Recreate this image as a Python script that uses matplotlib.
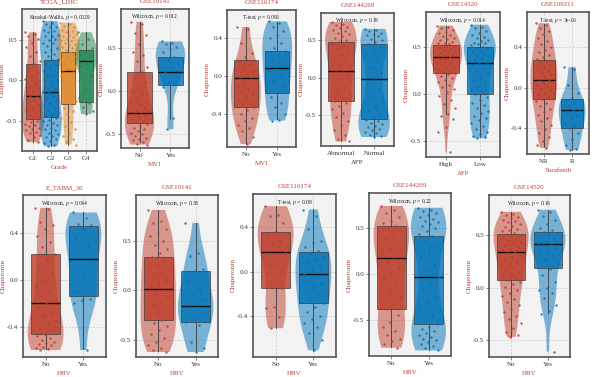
import numpy as np
import matplotlib
matplotlib.use("Agg")
import matplotlib.pyplot as plt

plt.rcParams['font.family'] = ['Liberation Serif', 'DejaVu Serif']
plt.rcParams['mathtext.fontset'] = 'stix'
plt.rcParams['axes.unicode_minus'] = False

RED, BLUE, ORANGE, GREEN = "#BC3C29", "#0072B5", "#E18727", "#20854E"
LABEL_RED = "#B8433A"

# ---------------- data ----------------
titles = ["TCGA_LIHC", "GSE10141", "GSE116174", "GSE144269", "GSE14520", "GSE109211",
          "E_TABM_36", "GSE10141", "GSE116174", "GSE144269", "GSE14520"]
xlabels = ["Grade", "MVI", "MVI", "AFP", "AFP", "Sorafenib", "HBV", "HBV", "HBV", "HBV", "HBV"]
categories = [["G1", "G2", "G3", "G4"], ["No", "Yes"], ["No", "Yes"], ["Abnormal", "Normal"],
              ["High", "Low"], ["NR", "R"], ["No", "Yes"], ["No", "Yes"], ["No", "Yes"],
              ["No", "Yes"], ["No", "Yes"]]
tests = ["Kruskal-Wallis", "Wilcoxon", "T-test", "Wilcoxon", "Wilcoxon", "T-test",
         "Wilcoxon", "Wilcoxon", "T-test", "Wilcoxon", "Wilcoxon"]
pvalues = ["0.0029", "0.012", "0.096", "0.19", "0.014", "3e-06", "0.044", "0.38", "0.08", "0.22", "0.16"]
ytick_values = [[-0.5, 0.0, 0.5], [-0.5, 0.0, 0.5], [-0.4, 0.0, 0.4], [-0.5, 0.0, 0.5],
                [-0.5, 0.0, 0.5], [-0.4, 0.0, 0.4], [-0.4, 0.0, 0.4], [-0.5, 0.0, 0.5],
                [-0.4, 0.0, 0.4], [-0.5, 0.0, 0.5], [-0.5, 0.0, 0.5]]
ylims = [(-0.88, 0.89), (-0.67, 0.96), (-0.75, 0.70), (-0.91, 0.86), (-0.67, 0.875),
         (-0.65, 0.74), (-0.66, 0.73), (-0.67, 0.96), (-0.77, 0.70), (-0.89, 0.88), (-0.66, 0.88)]

# box stats per panel: [whislo, q1, med, q3, whishi] for each group
box_tcga = [[-0.77, -0.48, -0.19, 0.21, 0.60], [-0.82, -0.45, -0.14, 0.26, 0.74],
            [-0.80, -0.30, 0.12, 0.36, 0.72], [-0.42, -0.27, 0.245, 0.375, 0.60]]
box_10141_mvi = [[-0.60, -0.376, -0.254, 0.224, 0.81], [-0.325, 0.067, 0.224, 0.393, 0.576]]
box_116174_mvi = [[-0.72, -0.331, -0.024, 0.169, 0.523], [-0.458, -0.183, 0.081, 0.268, 0.575]]
box_144269_afp = [[-0.85, -0.312, 0.088, 0.476, 0.74], [-0.79, -0.553, -0.013, 0.453, 0.65]]
box_14520_afp = [[-0.207, 0.229, 0.393, 0.525, 0.729], [-0.46, -0.003, 0.329, 0.50, 0.74]]
box_109211 = [[-0.58, -0.115, 0.072, 0.268, 0.627], [-0.608, -0.392, -0.216, -0.108, 0.202]]
box_etabm = [[-0.595, -0.465, -0.194, 0.22, 0.62], [-0.595, -0.137, 0.183, 0.463, 0.58]]
box_10141_hbv = [[-0.61, -0.295, 0.017, 0.335, 0.81], [-0.60, -0.319, -0.154, 0.194, 0.677]]
box_116174_hbv = [[-0.51, -0.15, 0.175, 0.36, 0.588], [-0.713, -0.285, -0.018, 0.175, 0.564]]
box_144269_hbv = [[-0.79, -0.382, 0.171, 0.52, 0.74], [-0.83, -0.538, -0.029, 0.418, 0.715]]
box_14520_hbv = [[-0.467, 0.073, 0.337, 0.506, 0.72], [-0.244, 0.184, 0.413, 0.527, 0.742]]

# individual sample values
tcga_g1 = [0.60, 0.58, 0.55, 0.52, 0.47, 0.42, 0.35, 0.30, 0.24, 0.20, 0.15, 0.10, 0.05, 0.02,
           -0.03, -0.08, -0.10, -0.13, -0.16, -0.18, -0.19, -0.22, -0.25, -0.28, -0.31, -0.34,
           -0.37, -0.40, -0.43, -0.45, -0.47, -0.48, -0.50, -0.52, -0.54, -0.56, -0.57, -0.59,
           -0.60, -0.62, -0.64, -0.66, -0.68, -0.71, -0.74, -0.77]
tcga_g2 = [0.74, 0.71, 0.70, 0.67, 0.66, 0.63, 0.61, 0.60, 0.57, 0.55, 0.55, 0.52, 0.50, 0.47,
           0.46, 0.43, 0.40, 0.38, 0.35, 0.33, 0.30, 0.27, 0.25, 0.22, 0.19, 0.15, 0.12, 0.07,
           0.05, 0.00, -0.04, -0.08, -0.11, -0.14, -0.15, -0.19, -0.22, -0.25, -0.28, -0.31,
           -0.35, -0.37, -0.40, -0.43, -0.44, -0.47, -0.49, -0.51, -0.53, -0.55, -0.56, -0.59,
           -0.61, -0.62, -0.65, -0.67, -0.69, -0.71, -0.73, -0.75, -0.78, -0.80, -0.82]
tcga_g3 = [0.72, 0.70, 0.68, 0.66, 0.65, 0.63, 0.61, 0.60, 0.58, 0.57, 0.55, 0.54, 0.52, 0.50,
           0.49, 0.47, 0.45, 0.44, 0.42, 0.40, 0.38, 0.37, 0.35, 0.33, 0.31, 0.29, 0.26, 0.24,
           0.21, 0.18, 0.15, 0.13, 0.11, 0.08, 0.05, 0.02, -0.02, -0.06, -0.10, -0.14, -0.18,
           -0.22, -0.26, -0.30, -0.34, -0.38, -0.42, -0.47, -0.52, -0.57, -0.61, -0.65, -0.69,
           -0.73, -0.77, -0.80]
tcga_g4 = [0.60, 0.52, 0.45, 0.40, 0.37, 0.33, 0.30, 0.27, 0.25, 0.22, 0.18, 0.05, -0.10,
           -0.22, -0.28, -0.33, -0.38, -0.42]
g10141_mvi_no = [0.81, 0.78, 0.68, 0.66, 0.55, 0.45, 0.42, 0.35, 0.28, 0.22, 0.15, 0.10, 0.05,
                 0.00, -0.04, -0.08, -0.12, -0.15, -0.18, -0.20, -0.22, -0.24, -0.25, -0.27,
                 -0.29, -0.31, -0.33, -0.35, -0.37, -0.39, -0.41, -0.43, -0.45, -0.47, -0.49,
                 -0.51, -0.53, -0.55, -0.57, -0.58, -0.60, -0.62, -0.63]
g10141_mvi_yes = [0.58, 0.56, 0.55, 0.52, 0.49, 0.45, 0.40, 0.36, 0.31, 0.26, 0.22, 0.17, 0.10,
                  0.04, -0.32, -0.45]
g116174_mvi_no = [0.52, 0.50, 0.35, 0.25, 0.20, 0.16, 0.12, 0.08, 0.05, 0.02, -0.01, -0.03,
                  -0.06, -0.10, -0.13, -0.16, -0.19, -0.22, -0.25, -0.28, -0.30, -0.33, -0.36,
                  -0.40, -0.44, -0.48, -0.52, -0.55, -0.58, -0.64, -0.72]
g116174_mvi_yes = [0.58, 0.56, 0.52, 0.48, 0.44, 0.40, 0.35, 0.30, 0.27, 0.22, 0.18, 0.12,
                   0.08, 0.05, 0.00, -0.05, -0.12, -0.18, -0.22, -0.28, -0.33, -0.40, -0.46, -0.47]
g144269_afp_abn = [0.74, 0.72, 0.70, 0.68, 0.66, 0.64, 0.62, 0.60, 0.58, 0.56, 0.53, 0.50,
                   0.48, 0.45, 0.42, 0.38, 0.34, 0.30, 0.26, 0.22, 0.18, 0.14, 0.10, 0.07, 0.03,
                   -0.02, -0.07, -0.12, -0.17, -0.22, -0.27, -0.31, -0.34, -0.38, -0.42, -0.47,
                   -0.52, -0.58, -0.63, -0.70, -0.76, -0.82, -0.85]
g144269_afp_nor = [0.65, 0.64, 0.62, 0.60, 0.58, 0.57, 0.55, 0.52, 0.50, 0.47, 0.45, 0.41,
                   0.36, 0.30, 0.22, 0.14, 0.06, -0.01, -0.08, -0.16, -0.24, -0.31, -0.38, -0.44,
                   -0.49, -0.53, -0.56, -0.58, -0.60, -0.62, -0.64, -0.66, -0.68, -0.70, -0.72,
                   -0.74, -0.76, -0.78, -0.79]
g14520_afp_high = [0.73, 0.71, 0.70, 0.68, 0.66, 0.65, 0.63, 0.62, 0.60, 0.59, 0.58, 0.56,
                   0.55, 0.54, 0.53, 0.52, 0.51, 0.50, 0.49, 0.48, 0.47, 0.46, 0.45, 0.44, 0.43,
                   0.42, 0.41, 0.40, 0.39, 0.38, 0.37, 0.36, 0.35, 0.34, 0.33, 0.32, 0.31, 0.30,
                   0.28, 0.27, 0.25, 0.24, 0.23, 0.21, 0.19, 0.17, 0.15, 0.13, 0.10, 0.08, 0.05,
                   0.02, -0.02, -0.06, -0.10, -0.15, -0.21, -0.23, -0.26, -0.35, -0.40, -0.62]
g14520_afp_low = [0.74, 0.72, 0.70, 0.67, 0.65, 0.63, 0.61, 0.60, 0.58, 0.57, 0.55, 0.54,
                  0.53, 0.52, 0.50, 0.49, 0.48, 0.46, 0.45, 0.43, 0.42, 0.40, 0.38, 0.36, 0.34,
                  0.33, 0.31, 0.28, 0.25, 0.22, 0.18, 0.15, 0.11, 0.08, 0.05, 0.02, 0.00, -0.03,
                  -0.06, -0.09, -0.12, -0.15, -0.18, -0.20, -0.23, -0.25, -0.28, -0.31, -0.34,
                  -0.37, -0.40, -0.43, -0.45, -0.46, -0.47]
g109211_nr = [0.63, 0.61, 0.58, 0.55, 0.52, 0.49, 0.46, 0.43, 0.40, 0.37, 0.35, 0.32, 0.30,
              0.28, 0.26, 0.24, 0.22, 0.20, 0.18, 0.16, 0.14, 0.12, 0.10, 0.08, 0.07, 0.05, 0.03,
              0.01, -0.01, -0.03, -0.05, -0.07, -0.09, -0.11, -0.13, -0.15, -0.18, -0.21, -0.24,
              -0.27, -0.30, -0.33, -0.37, -0.41, -0.44, -0.48, -0.52, -0.56, -0.59]
g109211_r = [0.20, 0.18, 0.03, -0.05, -0.10, -0.12, -0.15, -0.18, -0.21, -0.22, -0.24, -0.27,
             -0.31, -0.35, -0.38, -0.40, -0.44, -0.50, -0.56, -0.60, -0.61]
etabm_no = [0.62, 0.61, 0.50, 0.47, 0.44, 0.38, 0.33, 0.28, 0.22, 0.17, 0.12, 0.06, 0.00,
            -0.05, -0.10, -0.14, -0.18, -0.20, -0.23, -0.27, -0.31, -0.35, -0.38, -0.41, -0.44,
            -0.46, -0.48, -0.50, -0.51, -0.53, -0.54, -0.55, -0.56, -0.57, -0.58, -0.59, -0.60]
etabm_yes = [0.58, 0.53, 0.48, 0.47, 0.44, 0.35, 0.29, 0.20, 0.15, 0.03, -0.10, -0.16, -0.17,
             -0.20, -0.60]
g10141_hbv_no = [0.81, 0.70, 0.68, 0.62, 0.58, 0.55, 0.50, 0.46, 0.42, 0.38, 0.34, 0.30, 0.26,
                 0.22, 0.18, 0.14, 0.10, 0.06, 0.03, 0.00, -0.03, -0.07, -0.11, -0.15, -0.19,
                 -0.23, -0.27, -0.30, -0.33, -0.36, -0.40, -0.44, -0.48, -0.52, -0.55, -0.58,
                 -0.60, -0.62]
g10141_hbv_yes = [0.68, 0.38, 0.35, 0.22, 0.20, 0.10, 0.00, -0.05, -0.10, -0.15, -0.18, -0.22,
                  -0.28, -0.32, -0.35, -0.52, -0.58, -0.62]
g116174_hbv_no = [0.59, 0.51, 0.50, 0.44, 0.36, 0.33, 0.28, 0.26, 0.17, 0.07, 0.06, -0.15,
                  -0.32, -0.33, -0.41, -0.51]
g116174_hbv_yes = [0.56, 0.50, 0.38, 0.28, 0.26, 0.22, 0.19, 0.16, 0.13, 0.11, 0.08, 0.05,
                   0.02, -0.02, -0.05, -0.08, -0.11, -0.14, -0.17, -0.20, -0.24, -0.28, -0.32,
                   -0.36, -0.40, -0.43, -0.46, -0.50, -0.55, -0.62, -0.71]
g144269_hbv_no = [0.74, 0.70, 0.66, 0.62, 0.58, 0.55, 0.52, 0.50, 0.47, 0.43, 0.38, 0.33,
                  0.28, 0.23, 0.18, 0.13, 0.08, 0.02, -0.05, -0.12, -0.18, -0.25, -0.32, -0.38,
                  -0.45, -0.52, -0.58, -0.62, -0.66, -0.70, -0.73, -0.76, -0.80]
g144269_hbv_yes = [0.72, 0.70, 0.68, 0.66, 0.64, 0.62, 0.60, 0.58, 0.56, 0.54, 0.52, 0.50,
                   0.47, 0.44, 0.41, 0.36, 0.30, 0.24, 0.17, 0.10, 0.03, -0.03, -0.10, -0.17,
                   -0.24, -0.31, -0.38, -0.44, -0.50, -0.54, -0.57, -0.60, -0.62, -0.64, -0.66,
                   -0.68, -0.70, -0.72, -0.74, -0.76, -0.78, -0.80, -0.83]
g14520_hbv_no = [0.72, 0.70, 0.69, 0.67, 0.66, 0.64, 0.63, 0.62, 0.60, 0.59, 0.58, 0.56, 0.55,
                 0.54, 0.52, 0.51, 0.50, 0.49, 0.47, 0.46, 0.45, 0.43, 0.42, 0.40, 0.39, 0.37,
                 0.36, 0.34, 0.33, 0.31, 0.29, 0.27, 0.25, 0.23, 0.21, 0.19, 0.17, 0.15, 0.13,
                 0.11, 0.09, 0.07, 0.05, 0.03, 0.01, -0.02, -0.05, -0.08, -0.11, -0.14, -0.17,
                 -0.20, -0.23, -0.27, -0.30, -0.34, -0.38, -0.42, -0.45, -0.47]
g14520_hbv_yes = [0.74, 0.72, 0.68, 0.64, 0.60, 0.57, 0.55, 0.53, 0.51, 0.50, 0.48, 0.46, 0.44,
                  0.42, 0.41, 0.40, 0.38, 0.36, 0.33, 0.30, 0.26, 0.22, 0.18, 0.12, 0.05, 0.00,
                  -0.02, -0.05, -0.10, -0.17, -0.22, -0.25, -0.61]

groups = [[tcga_g1, tcga_g2, tcga_g3, tcga_g4], [g10141_mvi_no, g10141_mvi_yes],
          [g116174_mvi_no, g116174_mvi_yes], [g144269_afp_abn, g144269_afp_nor],
          [g14520_afp_high, g14520_afp_low], [g109211_nr, g109211_r], [etabm_no, etabm_yes],
          [g10141_hbv_no, g10141_hbv_yes], [g116174_hbv_no, g116174_hbv_yes],
          [g144269_hbv_no, g144269_hbv_yes], [g14520_hbv_no, g14520_hbv_yes]]
boxes = [box_tcga, box_10141_mvi, box_116174_mvi, box_144269_afp, box_14520_afp, box_109211,
         box_etabm, box_10141_hbv, box_116174_hbv, box_144269_hbv, box_14520_hbv]

# ---------------- layout (pixel boxes: left, top, right, bottom) ----------------
W, H = 600, 377
frames = [(22, 9, 97, 151), (121, 9, 189, 148), (227, 10, 296, 147), (321, 13, 394, 146),
          (426, 12, 500, 157), (527, 12, 589, 154), (23, 195, 106, 357), (136, 195, 218, 357),
          (253, 194, 336, 357), (369, 193, 451, 356), (489, 195, 570, 357)]

fig = plt.figure(figsize=(W / 100, H / 100), dpi=100)
fig.patch.set_facecolor("white")

for i in range(len(titles)):
    l, t, r, b = frames[i]
    ax = fig.add_axes([l / W, 1 - b / H, (r - l) / W, (b - t) / H])
    ax.set_facecolor("#F2F2F2")
    ncat = len(categories[i])
    cols = [RED, BLUE, ORANGE, GREEN][:ncat]
    pos = np.arange(1, ncat + 1)
    ax.set_xlim(0.4, ncat + 0.6)
    ax.set_ylim(*ylims[i])
    ax.set_axisbelow(True)
    ax.grid(True, color="#C8C8C8", lw=0.5, ls=(0, (3, 2)))
    vwidth = 1.25 if ncat > 2 else 0.95
    jwidth = 0.9 if ncat > 2 else 0.55

    for j, vals in enumerate(groups[i]):
        v = np.asarray(vals, dtype=float)
        vp = ax.violinplot([v], positions=[pos[j]], widths=vwidth, showextrema=False,
                           bw_method=0.9 * len(v) ** (-0.2))
        for body in vp['bodies']:
            body.set_facecolor(cols[j])
            body.set_edgecolor("none")
            body.set_alpha(0.5)
            body.set_zorder(1)

    stats = []
    for bs in boxes[i]:
        stats.append(dict(whislo=bs[0], q1=bs[1], med=bs[2], q3=bs[3], whishi=bs[4], fliers=[]))
    bp = ax.bxp(stats, positions=pos, widths=0.78, patch_artist=True, showcaps=False,
                showfliers=False,
                boxprops=dict(lw=0.6, edgecolor="#3A3A3A"),
                whiskerprops=dict(lw=0.6, color="#3A3A3A"),
                medianprops=dict(lw=1.0, color="#111111"), zorder=2)
    for j, patch in enumerate(bp['boxes']):
        patch.set_facecolor(cols[j])
        patch.set_alpha(0.8)
        patch.set_edgecolor("#3A3A3A")

    for j, vals in enumerate(groups[i]):
        v = np.asarray(vals, dtype=float)
        k = np.arange(len(v))
        jit = ((k * 0.6180339887) % 1.0 - 0.5) * jwidth
        ax.scatter(pos[j] + jit, v, s=3.0, color=cols[j], alpha=0.85, lw=0, zorder=3)

    ax.set_xticks(pos)
    ax.set_xticklabels(categories[i])
    ax.set_yticks(ytick_values[i])
    ax.set_yticklabels([f"{y:.1f}" for y in ytick_values[i]])
    ax.tick_params(axis="both", labelsize=5, colors="#555555", labelcolor="#333333",
                   length=2, width=0.5, pad=1.5)
    for sp in ax.spines.values():
        sp.set_color("#555555")
        sp.set_linewidth(1.2)

    ax.set_title(titles[i], fontsize=5, color=LABEL_RED, pad=4)
    ax.set_ylabel("Chaperonin", fontsize=5.2, color=LABEL_RED)
    ax.yaxis.set_label_coords(-17.0 / (r - l), 0.5)
    xcol = "#333333" if i == 3 else LABEL_RED
    ax.set_xlabel(xlabels[i], fontsize=5, color=xcol, labelpad=3)
    ax.text(0.5, 0.975, f"{tests[i]}, $p$ = {pvalues[i]}", transform=ax.transAxes,
            ha="center", va="top", fontsize=4.0, color="#222222", zorder=5)

fig.savefig("out.png", dpi=100)
